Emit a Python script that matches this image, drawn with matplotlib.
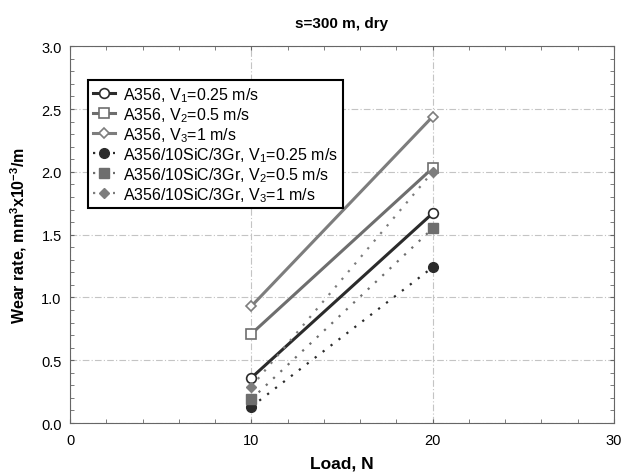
import matplotlib
matplotlib.use('Agg')
import matplotlib.pyplot as plt
from matplotlib.ticker import MultipleLocator, FormatStrFormatter

plt.rcParams['font.family'] = ['Liberation Sans', 'DejaVu Sans']
plt.rcParams['mathtext.fontset'] = 'custom'
plt.rcParams['mathtext.rm'] = 'Liberation Sans'
plt.rcParams['mathtext.bf'] = 'Liberation Sans:bold'

# data
load = [10, 20]
a356_v1 = [0.36, 1.67]
a356_v2 = [0.71, 2.03]
a356_v3 = [0.93, 2.44]
comp_v1 = [0.13, 1.24]
comp_v2 = [0.19, 1.55]
comp_v3 = [0.29, 2.00]

labels = ['A356, V$_1$=0.25 m/s', 'A356, V$_2$=0.5 m/s', 'A356, V$_3$=1 m/s',
          'A356/10SiC/3Gr, V$_1$=0.25 m/s', 'A356/10SiC/3Gr, V$_2$=0.5 m/s',
          'A356/10SiC/3Gr, V$_3$=1 m/s']

fig = plt.figure(figsize=(6.24, 4.77), dpi=100)
ax = fig.add_axes([0.1122, 0.111, 0.8718, 0.790])

c1, c2, c3 = '#2b2b2b', '#6e6e6e', '#7d7d7d'
dots = (0, (1, 3.5))

# base alloy: solid lines, open markers
ax.plot(load, a356_v1, '-', color=c1, lw=2.2, marker='o', ms=7, mfc='white', mec=c1, mew=1.2, label=labels[0])
ax.plot(load, a356_v2, '-', color=c2, lw=2.2, marker='s', ms=7, mfc='white', mec=c2, mew=1.2, label=labels[1])
ax.plot(load, a356_v3, '-', color=c3, lw=2.2, marker='D', ms=5.5, mfc='white', mec=c3, mew=1.2, label=labels[2])

# composite: dotted lines, filled markers
ax.plot(load, comp_v1, linestyle=dots, color=c1, lw=1.6, marker='o', ms=7, mfc=c1, mec=c1, label=labels[3])
ax.plot(load, comp_v2, linestyle=dots, color=c2, lw=1.6, marker='s', ms=7, mfc=c2, mec=c2, label=labels[4])
ax.plot(load, comp_v3, linestyle=dots, color=c3, lw=1.6, marker='D', ms=5.5, mfc=c3, mec=c3, label=labels[5])

ax.set_xlim(0, 30)
ax.set_ylim(0, 3.0)
ax.xaxis.set_major_locator(MultipleLocator(10))
ax.xaxis.set_minor_locator(MultipleLocator(2))
ax.yaxis.set_major_locator(MultipleLocator(0.5))
ax.yaxis.set_minor_locator(MultipleLocator(0.1))
ax.yaxis.set_major_formatter(FormatStrFormatter('%.1f'))
ax.tick_params(which='both', direction='in', top=True, right=True, color='#666666',
               labelsize=10.5, length=3)
ax.tick_params(axis='x', pad=7)
ax.tick_params(axis='y', pad=6)
for s in ax.spines.values():
    s.set_color('#666666')

ax.grid(True, which='major', color='#c4c4c4', linestyle=(0, (6, 2, 1, 2)), lw=0.8)
ax.set_axisbelow(True)

ax.set_title('s=300 m, dry', fontsize=11, fontweight='bold', pad=14)
ax.set_xlabel('Load, N', fontsize=12.5, fontweight='bold', labelpad=6)
ax.set_ylabel('Wear rate, mm$^\\mathbf{3}$x10$^\\mathbf{-3}$/m', fontsize=11.5, fontweight='bold', labelpad=9)

leg = ax.legend(loc='upper left', bbox_to_anchor=(0.033, 0.91), fontsize=11.5, frameon=True,
                fancybox=False, edgecolor='black', handlelength=1.4, handletextpad=0.5,
                labelspacing=0.08, borderpad=0.3, borderaxespad=0)
leg.get_frame().set_linewidth(1.5)
leg.get_frame().set_alpha(1)

plt.savefig('out.png', dpi=100)
